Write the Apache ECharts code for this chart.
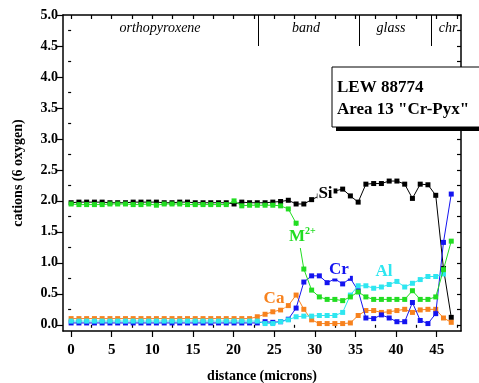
<!DOCTYPE html>
<html>
<head>
<meta charset="utf-8">
<script src="https://cdn.jsdelivr.net/npm/echarts@6/dist/echarts.min.js"></script>
<style>
html, body { margin: 0; padding: 0; background: #fff; }
#chart { width: 479px; height: 383px; }
</style>
</head>
<body>
<div id="chart"></div>
<script>
// distance along the traverse (microns)
var distance = [0, 0.96, 1.91, 2.87, 3.82, 4.78, 5.73, 6.69, 7.64, 8.6,
    9.55, 10.5, 11.46, 12.42, 13.37, 14.33, 15.28, 16.24, 17.19, 18.15,
    19.1, 20.06, 21.01, 21.97, 22.92, 23.88, 24.83, 25.79, 26.74, 27.7,
    28.65, 29.61, 30.56, 31.52, 32.47, 33.43, 34.38, 35.34, 36.29, 37.25,
    38.2, 39.16, 40.11, 41.07, 42.02, 42.98, 43.93, 44.89, 45.84, 46.8];

var si = [1.97, 1.98, 1.98, 1.98, 1.98, 1.97, 1.97, 1.97, 1.98, 1.98,
    1.98, 1.98, 1.97, 1.97, 1.98, 1.98, 1.97, 1.97, 1.97, 1.97,
    1.97, 1.95, 1.98, 1.97, 1.97, 1.97, 1.98, 1.99, 2.01, 1.95,
    1.95, 2.02, 2.08, 2.12, 2.16, 2.19, 2.08, 1.98, 2.27, 2.28,
    2.28, 2.32, 2.32, 2.27, 2.04, 2.27, 2.26, 2.09, 0.91, 0.12];

var m2 = [1.95, 1.94, 1.94, 1.94, 1.94, 1.95, 1.95, 1.95, 1.94, 1.94,
    1.95, 1.93, 1.95, 1.95, 1.95, 1.94, 1.94, 1.94, 1.94, 1.94,
    1.94, 2.00, 1.92, 1.93, 1.93, 1.93, 1.93, 1.92, 1.87, 1.64,
    0.90, 0.56, 0.45, 0.41, 0.41, 0.39, 0.45, 0.53, 0.45, 0.41,
    0.41, 0.41, 0.41, 0.41, 0.55, 0.41, 0.41, 0.45, 0.89, 1.35];

var cr = [0.03, 0.03, 0.03, 0.03, 0.03, 0.03, 0.03, 0.03, 0.03, 0.03,
    0.03, 0.03, 0.03, 0.03, 0.03, 0.03, 0.03, 0.03, 0.03, 0.03,
    0.03, 0.03, 0.03, 0.03, 0.03, 0.05, 0.04, 0.05, 0.09, 0.27,
    0.69, 0.79, 0.79, 0.68, 0.74, 0.66, 0.75, 0.55, 0.11, 0.10,
    0.16, 0.11, 0.05, 0.05, 0.36, 0.07, 0.02, 0.18, 1.33, 2.11];

var al = [0.06, 0.06, 0.06, 0.06, 0.06, 0.06, 0.06, 0.06, 0.06, 0.06,
    0.06, 0.06, 0.06, 0.06, 0.06, 0.06, 0.06, 0.06, 0.06, 0.06,
    0.06, 0.06, 0.06, 0.06, 0.06, 0.02, 0.02, 0.05, 0.08, 0.13,
    0.14, 0.14, 0.15, 0.15, 0.15, 0.20, 0.48, 0.63, 0.63, 0.59,
    0.61, 0.65, 0.70, 0.61, 0.67, 0.73, 0.78, 0.78, 0.82, null];

var ca = [0.10, 0.10, 0.10, 0.10, 0.10, 0.10, 0.10, 0.10, 0.10, 0.10,
    0.10, 0.10, 0.10, 0.10, 0.10, 0.10, 0.10, 0.10, 0.10, 0.10,
    0.10, 0.10, 0.10, 0.10, 0.13, 0.17, 0.21, 0.24, 0.31, 0.48,
    0.25, 0.08, 0.02, 0.02, 0.02, 0.02, 0.03, 0.15, 0.23, 0.23,
    0.20, 0.21, 0.23, 0.25, 0.20, 0.24, 0.25, 0.25, 0.11, 0.04];

var xTicks = [0, 5, 10, 15, 20, 25, 30, 35, 40, 45];
var xMinor = [2.5, 7.5, 12.5, 17.5, 22.5, 27.5, 32.5, 37.5, 42.5, 47.5];
var yTicks = [0, 0.5, 1, 1.5, 2, 2.5, 3, 3.5, 4, 4.5, 5];
var yMinor = [0.25, 0.75, 1.25, 1.75, 2.25, 2.75, 3.25, 3.75, 4.25, 4.75];

var serif = '"Liberation Serif", "Times New Roman", serif';
var chart = echarts.init(document.getElementById('chart'));

function pairs(vals) {
    var out = [];
    for (var i = 0; i < distance.length; i++) {
        if (vals[i] != null) out.push([distance[i], vals[i]]);
    }
    return out;
}

function line(vals, color, z) {
    return {
        type: 'line',
        data: pairs(vals),
        symbol: 'rect',
        symbolSize: 5,
        z: z,
        itemStyle: { color: color },
        lineStyle: { color: color, width: 1 },
        emphasis: { disabled: true }
    };
}

// element name written over the curve, white behind it
function tag(text, x, y, color) {
    return {
        type: 'text', zlevel: 1, x: x, y: y,
        style: {
            text: text, fontFamily: serif, fontWeight: 'bold', fontSize: 17, fill: color,
            align: 'center', verticalAlign: 'middle', backgroundColor: '#fff', padding: [0, 1]
        }
    };
}

var axLine = { show: true, onZero: false, lineStyle: { color: '#000', width: 1.5 } };
var tickStyle = { color: '#000', width: 1.2 };

var option = {
    animation: false,
    grid: { left: 63, right: 18, top: 15, bottom: 52, outerBoundsMode: 'none', containLabel: false },
    xAxis: [{
        type: 'value', min: -1, max: 48, position: 'bottom',
        axisLine: axLine,
        axisTick: { show: true, length: 6, customValues: xTicks, lineStyle: tickStyle },
        axisLabel: { customValues: xTicks, fontFamily: serif, fontWeight: 'bold', fontSize: 15, color: '#000', margin: 12 },
        splitLine: { show: false },
        name: 'distance (microns)', nameLocation: 'middle', nameGap: 38,
        nameTextStyle: { fontFamily: serif, fontWeight: 'bold', fontSize: 14, color: '#000' }
    }, {
        type: 'value', min: -1, max: 48, position: 'bottom',
        axisLine: { show: false },
        axisTick: { show: true, length: 3, customValues: xMinor, lineStyle: tickStyle },
        axisLabel: { show: false },
        splitLine: { show: false }
    }, {
        type: 'value', min: -1, max: 48, position: 'top',
        axisLine: axLine,
        axisTick: { show: true, inside: true, length: 4, customValues: xTicks.concat(xMinor), lineStyle: tickStyle },
        axisLabel: { show: false },
        splitLine: { show: false }
    }],
    yAxis: [{
        type: 'value', min: -0.1, max: 5, position: 'left',
        axisLine: axLine,
        axisTick: { show: true, length: 6, customValues: yTicks, lineStyle: tickStyle },
        axisLabel: {
            customValues: yTicks, fontFamily: serif, fontWeight: 'bold', fontSize: 14, color: '#000', margin: 5,
            formatter: function (v) { return v.toFixed(1); }
        },
        splitLine: { show: false },
        name: 'cations (6 oxygen)', nameLocation: 'middle', nameGap: 38,
        nameTextStyle: { fontFamily: serif, fontWeight: 'bold', fontSize: 14, color: '#000' }
    }, {
        type: 'value', min: -0.1, max: 5, position: 'left',
        axisLine: { show: false },
        axisTick: { show: true, length: 3, customValues: yMinor, lineStyle: tickStyle },
        axisLabel: { show: false },
        splitLine: { show: false }
    }, {
        type: 'value', min: -0.1, max: 5, position: 'right',
        axisLine: axLine,
        axisTick: { show: true, inside: true, length: 4, customValues: yTicks.concat(yMinor), lineStyle: tickStyle },
        axisLabel: { show: false },
        splitLine: { show: false }
    }],
    series: [
        line(si, '#000000', 2),
        line(ca, '#f7821e', 3),
        line(cr, '#1414f0', 4),
        line(al, '#2ee6f0', 5),
        line(m2, '#22dd22', 6)
    ],
    graphic: [
        // zone separators and names
        { type: 'line', shape: { x1: 258.5, y1: 15, x2: 258.5, y2: 46 }, style: { stroke: '#000', lineWidth: 1 } },
        { type: 'line', shape: { x1: 359.5, y1: 15, x2: 359.5, y2: 46 }, style: { stroke: '#000', lineWidth: 1 } },
        { type: 'line', shape: { x1: 431.5, y1: 15, x2: 431.5, y2: 46 }, style: { stroke: '#000', lineWidth: 1 } },
        { type: 'text', x: 160, y: 28, style: { text: 'orthopyroxene', fontFamily: serif, fontStyle: 'italic', fontSize: 14, fill: '#000', align: 'center', verticalAlign: 'middle' } },
        { type: 'text', x: 306, y: 28, style: { text: 'band', fontFamily: serif, fontStyle: 'italic', fontSize: 14, fill: '#000', align: 'center', verticalAlign: 'middle' } },
        { type: 'text', x: 391, y: 28, style: { text: 'glass', fontFamily: serif, fontStyle: 'italic', fontSize: 14, fill: '#000', align: 'center', verticalAlign: 'middle' } },
        { type: 'text', x: 448, y: 28, style: { text: 'chr', fontFamily: serif, fontStyle: 'italic', fontSize: 14, fill: '#000', align: 'center', verticalAlign: 'middle' } },
        // sample box with drop shadow
        { type: 'rect', zlevel: 1, z: 1, shape: { x: 336, y: 71, width: 150, height: 60 }, style: { fill: '#000' } },
        { type: 'rect', zlevel: 1, z: 2, shape: { x: 332, y: 67, width: 150, height: 60 }, style: { fill: '#fff', stroke: '#000', lineWidth: 1 } },
        { type: 'text', zlevel: 1, z: 3, x: 337, y: 88, style: { text: 'LEW 88774', fontFamily: serif, fontWeight: 'bold', fontSize: 17, fill: '#000', verticalAlign: 'middle' } },
        { type: 'text', zlevel: 1, z: 3, x: 337, y: 110, style: { text: 'Area 13 "Cr-Pyx"', fontFamily: serif, fontWeight: 'bold', fontSize: 17, fill: '#000', verticalAlign: 'middle' } },
        // element labels
        tag('Si', 325.5, 194, '#000'),
        {
            type: 'text', zlevel: 1, x: 289, y: 237, style: {
                text: '{m|M}{s|2+}', fontFamily: serif, fontWeight: 'bold', fill: '#22dd22', verticalAlign: 'middle',
                backgroundColor: '#fff',
                rich: {
                    m: { fontFamily: serif, fontWeight: 'bold', fontSize: 17, fill: '#22dd22' },
                    s: { fontFamily: serif, fontWeight: 'bold', fontSize: 10, fill: '#22dd22', verticalAlign: 'top', padding: [0, 0, 12, 0] }
                }
            }
        },
        tag('Cr', 339, 270, '#1414f0'),
        tag('Al', 384, 272, '#2ee6f0'),
        tag('Ca', 274, 299, '#f7821e')
    ]
};
chart.setOption(option);
</script>
</body>
</html>
